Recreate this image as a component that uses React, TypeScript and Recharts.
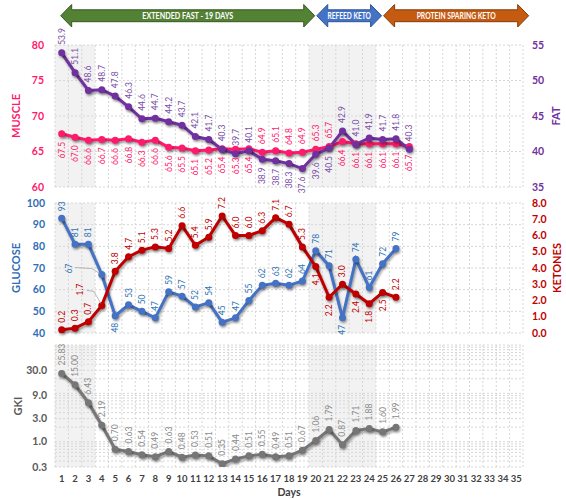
import React from "react";
import { ComposedChart, Line, XAxis, YAxis, ReferenceArea, ReferenceLine, LabelList, Label } from "recharts";

const days = [1, 2, 3, 4, 5, 6, 7, 8, 9, 10, 11, 12, 13, 14, 15, 16, 17, 18, 19, 20, 21, 22, 23, 24, 25, 26, 27, 28, 29, 30, 31, 32, 33, 34, 35];

const muscle = [67.5, 67.0, 66.6, 66.7, 66.6, 66.8, 66.3, 66.6, 65.6, 65.5, 65.1, 65.2, 65.4, 65.3, 65.4, 64.9, 65.1, 64.8, 64.9, 65.3, 65.7, 66.4, 66.1, 66.1, 66.1, 66.1, 65.7];
const fat = [53.9, 51.1, 48.6, 48.7, 47.8, 46.3, 44.6, 44.7, 44.2, 43.7, 42.1, 41.7, 40.3, 39.7, 40.1, 38.9, 38.7, 38.3, 37.6, 39.6, 40.5, 42.9, 41.0, 41.9, 41.7, 41.8, 40.3];
const glucose = [93, 81, 81, 67, 48, 53, 50, 47, 59, 57, 52, 54, 45, 47, 55, 62, 63, 62, 64, 78, 71, 47, 74, 61, 72, 79];
const ketones = [0.2, 0.3, 0.7, 1.7, 3.8, 4.7, 5.1, 5.3, 5.2, 6.6, 5.4, 5.9, 7.2, 6.0, 6.0, 6.3, 7.1, 6.7, 5.3, 4.1, 2.2, 3.0, 2.4, 1.8, 2.5, 2.2];
const gki = [25.83, 15.0, 6.43, 2.19, 0.7, 0.63, 0.54, 0.49, 0.63, 0.48, 0.53, 0.51, 0.35, 0.44, 0.51, 0.55, 0.49, 0.51, 0.67, 1.06, 1.79, 0.87, 1.71, 1.88, 1.6, 1.99];

const muscleTicks = [60, 65, 70, 75, 80];
const fatTicks = [35, 40, 45, 50, 55];
const glucoseTicks = [40, 50, 60, 70, 80, 90, 100];
const ketoneTicks = [0, 1, 2, 3, 4, 5, 6, 7, 8];
const gkiTicks = [0.3, 1, 3, 6, 9, 30];
const gkiGrid = [0.3, 0.4, 0.5, 0.6, 0.7, 0.8, 0.9, 1, 2, 3, 4, 5, 6, 7, 8, 9, 10, 20, 30, 40, 50, 60, 70, 80, 90, 100];

const phases = [
  { label: "EXTENDED FAST - 19 DAYS", from: 1, to: 19, fill: "#548235", stroke: "#385723" },
  { label: "REFEED KETO", from: 20, to: 24, fill: "#4472C4", stroke: "#2F5597" },
  { label: "PROTEIN SPARING KETO", from: 25, to: 35, fill: "#C55A11", stroke: "#843C0C" },
];
const shaded = [
  [1, 3],
  [20, 24],
];

const rows = days.map((d, i) => ({
  day: d,
  muscle: muscle[i],
  fat: fat[i],
  glucose: glucose[i],
  ketones: ketones[i],
  gki: gki[i],
}));

const W = 566;
const PLOT_L = 55;
const PLOT_R = 523;
const BAND = (PLOT_R - PLOT_L) / days.length;
const bounds = [0, ...days].map((d) => d + 0.5);

const PINK = "#FF1A6C";
const PURPLE = "#7030A0";
const BLUE = "#4472C4";
const RED = "#C00000";
const GRAY = "#767676";
const GRID = "#d6d6d6";

const fmt1 = (v: number) => v.toFixed(1);
const fmt0 = (v: number) => String(v);
const fmt2 = (v: number) => v.toFixed(2);

function rotLabel(color: string, fmt: (v: number) => string, below: number[], gap = 7) {
  return (props: any) => {
    const { x, y, value, index } = props;
    if (value == null || x == null || y == null) return null;
    const day = index != null ? index + 1 : Math.round((x - PLOT_L) / BAND + 0.5);
    const down = below.includes(day);
    const ty = down ? y + gap : y - gap;
    return (
      <text
        x={x}
        y={ty}
        transform={`rotate(-90 ${x} ${ty})`}
        textAnchor={down ? "end" : "start"}
        dominantBaseline="central"
        fill={color}
        fontSize={8.5}
      >
        {fmt(value)}
      </text>
    );
  };
}

// day 4 labels sit off to the left with a leader line in the original
function leaderLabel(color: string, fmt: (v: number) => string, below: number[], lx: number, ly: number, pts: number[][]) {
  const normal = rotLabel(color, fmt, below);
  return (props: any) => {
    const { x, y, value, index } = props;
    if (index !== 3 || value == null) return normal(props);
    const tx = x + lx;
    const ty = y + ly;
    const path = pts.map((p) => `${x + p[0]},${y + p[1]}`).join(" ");
    return (
      <g>
        <polyline points={path} fill="none" stroke="#a6a6a6" strokeWidth={0.8} />
        <text x={tx} y={ty} transform={`rotate(-90 ${tx} ${ty})`} textAnchor="start" dominantBaseline="central" fill={color} fontSize={8.5}>
          {fmt(value)}
        </text>
      </g>
    );
  };
}

function axisTitle(text: string, color: string, dx: number) {
  return (props: any) => {
    const vb = props.viewBox || {};
    const cx = vb.x + dx;
    const cy = vb.y + vb.height / 2;
    return (
      <text x={cx} y={cy} transform={`rotate(-90 ${cx} ${cy})`} textAnchor="middle" dominantBaseline="central" fill={color} fontSize={11} fontWeight={700}>
        {text}
      </text>
    );
  };
}

function backdrop(yId: string, gridY: number[]) {
  return [
    ...shaded.map(([a, b]) => (
      <ReferenceArea key={`s${a}`} x1={a - 0.5} x2={b + 0.5} yAxisId={yId} fill="#f2f2f2" fillOpacity={1} stroke="none" ifOverflow="hidden" />
    )),
    ...gridY.map((v) => <ReferenceLine key={`h${v}`} y={v} yAxisId={yId} stroke={GRID} strokeDasharray="2 2" />),
    ...bounds.map((b) => <ReferenceLine key={`v${b}`} x={b} yAxisId={yId} stroke={GRID} strokeDasharray="2 2" />),
  ];
}

const tickStyle = (c: string) => ({ fill: c, fontSize: 10.5, fontWeight: 700 });

function Arrows() {
  const px = (d: number) => PLOT_L + (d - 0.5) * BAND;
  const y0 = 4.5, y1 = 27, ym = 15.75, s0 = 9.8, s1 = 21.7, h = 11;
  return (
    <svg width={W} height={32} style={{ position: "absolute", left: 0, top: 0 }}>
      {phases.map((p, i) => {
        const x1 = px(p.from) + (i === 0 ? -1 : 1);
        const x2 = px(p.to + 1) - 1;
        const pts = [
          [x1, ym], [x1 + h, y0], [x1 + h, s0], [x2 - h, s0], [x2 - h, y0], [x2, ym],
          [x2 - h, y1], [x2 - h, s1], [x1 + h, s1], [x1 + h, y1],
        ].map((q) => q.join(",")).join(" ");
        const tw = p.label.length * 3.95;
        return (
          <g key={p.label}>
            <polygon points={pts} fill={p.fill} stroke={p.stroke} strokeWidth={1} />
            <text x={(x1 + x2) / 2} y={ym + 0.5} textAnchor="middle" dominantBaseline="central" fill="#fff" fontSize={8.5} fontWeight={700} textLength={tw} lengthAdjust="spacingAndGlyphs">
              {p.label}
            </text>
          </g>
        );
      })}
    </svg>
  );
}

export default function App() {
  const xHidden = <XAxis type="number" dataKey="day" domain={[0.5, days.length + 0.5]} hide />;
  return (
    <div style={{ position: "relative", width: W, height: 499, background: "#fff", fontFamily: "Lato, 'Noto Sans', sans-serif", overflow: "hidden" }}>
      <style>{`body{margin:0} .shd .recharts-line-curve, .shd .recharts-line-dots { filter: drop-shadow(1.5px 2.5px 1.2px rgba(0,0,0,0.35)); }`}</style>

      <div className="shd" style={{ position: "absolute", left: 0, top: 0 }}>
        <ComposedChart width={W} height={202} data={rows} margin={{ top: 45, right: 0, bottom: 15, left: 0 }}>
          {xHidden}
          <YAxis yAxisId="m" domain={[60, 80]} ticks={muscleTicks} width={PLOT_L} tickLine={false} axisLine={false} tickSize={0} tickMargin={11} tick={tickStyle(PINK)}>
            <Label content={axisTitle("MUSCLE", PINK, 15)} />
          </YAxis>
          <YAxis yAxisId="f" orientation="right" domain={[35, 55]} ticks={fatTicks} width={W - PLOT_R} tickLine={false} axisLine={false} tickSize={0} tickMargin={9} tick={tickStyle(PURPLE)}>
            <Label content={axisTitle("FAT", PURPLE, 32)} />
          </YAxis>
          {backdrop("m", muscleTicks)}
          <Line yAxisId="m" dataKey="muscle" stroke={PINK} strokeWidth={3} dot={{ r: 3.5, fill: PINK, stroke: PINK, strokeWidth: 0 }} isAnimationActive={false}>
            <LabelList dataKey="muscle" content={rotLabel(PINK, fmt1, [1, 2, 3, 4, 5, 6, 7, 8, 9, 10, 11, 12, 13, 14, 15, 22, 23, 24, 25, 26, 27], 8)} />
          </Line>
          <Line yAxisId="f" dataKey="fat" stroke={PURPLE} strokeWidth={3} dot={{ r: 3.5, fill: PURPLE, stroke: PURPLE, strokeWidth: 0 }} isAnimationActive={false}>
            <LabelList dataKey="fat" content={rotLabel("#7A4FA8", fmt1, [16, 17, 18, 19, 20, 21], 8)} />
          </Line>
        </ComposedChart>
      </div>

      <Arrows />

      <div className="shd" style={{ position: "absolute", left: 0, top: 190 }}>
        <ComposedChart width={W} height={150} data={rows} margin={{ top: 13, right: 0, bottom: 7, left: 0 }}>
          {xHidden}
          <YAxis yAxisId="g" domain={[40, 100]} ticks={glucoseTicks} width={PLOT_L} tickLine={false} axisLine={false} tickSize={0} tickMargin={10} tick={tickStyle("#2F6DB5")}>
            <Label content={axisTitle("GLUCOSE", "#2F6DB5", 15)} />
          </YAxis>
          <YAxis yAxisId="k" orientation="right" domain={[0, 8]} ticks={ketoneTicks} tickFormatter={fmt1} width={W - PLOT_R} tickLine={false} axisLine={false} tickSize={0} tickMargin={9} tick={tickStyle(RED)}>
            <Label content={axisTitle("KETONES", RED, 33)} />
          </YAxis>
          {backdrop("g", glucoseTicks)}
          <Line yAxisId="g" dataKey="glucose" stroke={BLUE} strokeWidth={3} dot={{ r: 3.5, fill: BLUE, stroke: BLUE, strokeWidth: 0 }} isAnimationActive={false}>
            <LabelList
              dataKey="glucose"
              content={leaderLabel("#2E75B6", fmt0, [5, 22], -33, -1, [[-27, -7], [-10, -6], [-2, -1]])}
            />
          </Line>
          <Line yAxisId="k" dataKey="ketones" stroke={RED} strokeWidth={3} dot={{ r: 3.5, fill: RED, stroke: RED, strokeWidth: 0 }} isAnimationActive={false}>
            <LabelList
              dataKey="ketones"
              content={leaderLabel(RED, fmt1, [20, 21, 23, 24, 25], -22, -10, [[-15, -15], [-8, -14], [-1, -2]])}
            />
          </Line>
        </ComposedChart>
      </div>

      <div className="shd" style={{ position: "absolute", left: 0, top: 340 }}>
        <ComposedChart width={W} height={159} data={rows} margin={{ top: 5, right: W - PLOT_R, bottom: 0, left: 0 }}>
          <XAxis
            type="number"
            dataKey="day"
            domain={[0.5, days.length + 0.5]}
            ticks={days}
            interval={0}
            height={32}
            tickLine={false}
            axisLine={false}
            tickSize={0}
            tickMargin={8}
            tick={{ fill: "#404040", fontSize: 9.5, fontWeight: 700 }}
          >
            <Label value="Days" position="insideBottom" offset={3} fill="#404040" fontSize={10.5} fontWeight={700} />
          </XAxis>
          <YAxis
            yAxisId="gki"
            scale="log"
            domain={[0.3, 100]}
            allowDataOverflow
            ticks={gkiTicks}
            tickFormatter={fmt1}
            width={PLOT_L}
            tickLine={false}
            axisLine={false}
            tickSize={0}
            tickMargin={8}
            tick={tickStyle("#595959")}
          >
            <Label content={axisTitle("GKI", "#595959", 17)} />
          </YAxis>
          {backdrop("gki", gkiGrid)}
          <Line yAxisId="gki" dataKey="gki" stroke={GRAY} strokeWidth={3} dot={{ r: 3.5, fill: GRAY, stroke: GRAY, strokeWidth: 0 }} isAnimationActive={false}>
            <LabelList dataKey="gki" content={rotLabel("#8C8C8C", fmt2, [], 8)} />
          </Line>
        </ComposedChart>
      </div>
    </div>
  );
}
